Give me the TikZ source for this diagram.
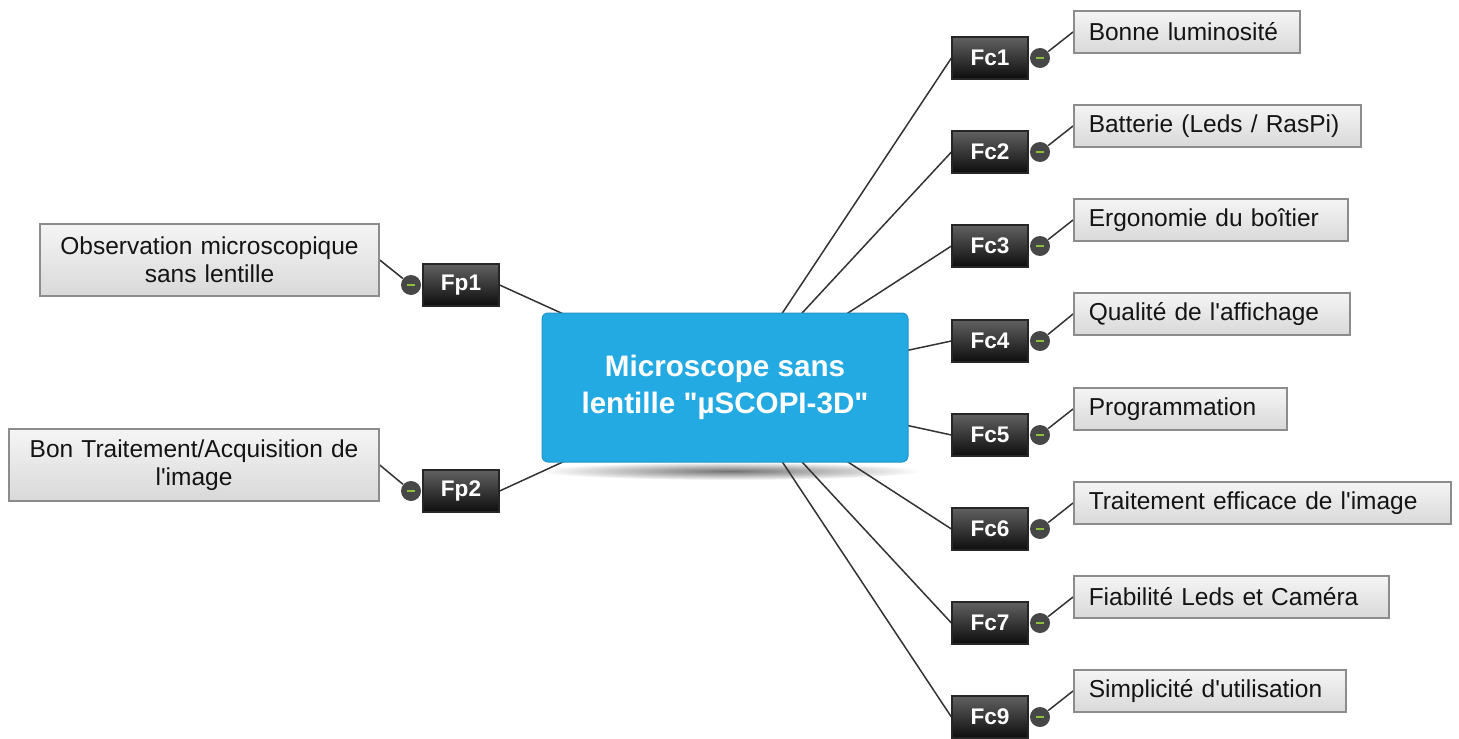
\documentclass[tikz,border=0pt]{standalone}
\usepackage{fontspec}
\setmainfont{Liberation Sans}[Ligatures=TeXOff]
\pgfdeclarelayer{bg}
\pgfsetlayers{bg,main}
\definecolor{hubblue}{HTML}{24AAE2}
\definecolor{hubedge}{HTML}{1E96C9}
\definecolor{minusgreen}{HTML}{8DBE3C}
\definecolor{linkgray}{HTML}{333333}
\begin{document}
\begin{tikzpicture}[x=0.5pt,y=-0.5pt,
  link/.style={draw=linkgray, line width=0.75pt},
  topic/.style={draw=black!45, line width=0.75pt, top color=black!4, bottom color=black!15,
    text=black!92, font=\fontsize{12.25}{14}\selectfont, minimum height=21pt,
    inner xsep=7.5pt, inner ysep=0pt, align=left, text width=#1, anchor=west},
  maintopic/.style={draw=black!45, line width=0.75pt, top color=black!4, bottom color=black!15,
    text=black!92, font=\fontsize{12.25}{14}\selectfont, minimum height=36pt,
    inner xsep=5pt, inner ysep=0pt, align=center, text width=#1},
  tag/.style={draw=black!85, line width=0.6pt, top color=black!62, bottom color=black!95,
    text=white, font=\bfseries\fontsize{11.3}{13}\selectfont,
    minimum width=38pt, minimum height=21pt, inner sep=0pt},
  knob/.style={circle, fill=black!72, minimum size=10pt, inner sep=0pt,
    path picture={\draw[minusgreen, line width=0.9pt]
      ([xshift=-1.9pt]path picture bounding box.center) --
      ([xshift=1.9pt]path picture bounding box.center);}},
  hubbox/.style={rounded corners=3pt, fill=hubblue, draw=hubedge, line width=0.5pt,
    minimum width=183pt, minimum height=74.5pt, text=white, align=center,
    font=\bfseries\fontsize{14.8}{18.5}\selectfont}
]
\useasboundingbox (0,0) rectangle (1459,738);

% central topic
\node[hubbox] (hub) at (725,387.5) {Microscope sans\\lentille "µSCOPI-3D"};
\coordinate (coreL) at (725,387.5);
\coordinate (coreR) at (733,387.5);

% left branches
\node[maintopic=159.5pt] (obs) at (209.5,260) {Observation microscopique\\sans lentille};
\node[maintopic=175pt] (acq) at (194,465) {Bon Traitement/Acquisition de\\l'image};
\node[tag] (fp1) at (461,285) {Fp1};
\node[tag] (fp2) at (461,491) {Fp2};
\node[knob] (kp1) at (411,285) {};
\node[knob] (kp2) at (411,491) {};

% right branches
\node[tag] (fc1) at (990,58)  {Fc1};
\node[tag] (fc2) at (990,152) {Fc2};
\node[tag] (fc3) at (990,246) {Fc3};
\node[tag] (fc4) at (990,341) {Fc4};
\node[tag] (fc5) at (990,435) {Fc5};
\node[tag] (fc6) at (990,529) {Fc6};
\node[tag] (fc7) at (990,623) {Fc7};
\node[tag] (fc9) at (990,717) {Fc9};

\node[knob] (k1) at (1040,58)  {};
\node[knob] (k2) at (1040,152) {};
\node[knob] (k3) at (1040,246) {};
\node[knob] (k4) at (1040,341) {};
\node[knob] (k5) at (1040,435) {};
\node[knob] (k6) at (1040,529) {};
\node[knob] (k7) at (1040,623) {};
\node[knob] (k9) at (1040,717) {};

\node[topic=98pt]    (t1) at (1073,32)  {Bonne luminosité};
\node[topic=128.5pt] (t2) at (1073,126) {Batterie (Leds / RasPi)};
\node[topic=122pt]   (t3) at (1073,220) {Ergonomie du boîtier};
\node[topic=123pt]   (t4) at (1073,314) {Qualité de l'affichage};
\node[topic=91.5pt]  (t5) at (1073,409) {Programmation};
\node[topic=173.5pt] (t6) at (1073,503) {Traitement efficace de l'image};
\node[topic=142.5pt] (t7) at (1073,597) {Fiabilité Leds et Caméra};
\node[topic=121pt]   (t9) at (1073,691) {Simplicité d'utilisation};

\begin{pgfonlayer}{bg}
  % soft shadow under the central topic
  \shade[inner color=black!55, outer color=white] (730,471) ellipse (192 and 9);
  % connectors
  \draw[link] (fp1.east) -- (coreL);
  \draw[link] (fp2.east) -- (coreL);
  \draw[link] (obs.east) -- (kp1);
  \draw[link] (acq.east) -- (kp2);
  \foreach \i in {1,2,3,4,5,6,7,9}{
    \draw[link] (fc\i.west) -- (coreR);
    \draw[link] (k\i) -- (t\i.west);
  }
\end{pgfonlayer}
\end{tikzpicture}
\end{document}
